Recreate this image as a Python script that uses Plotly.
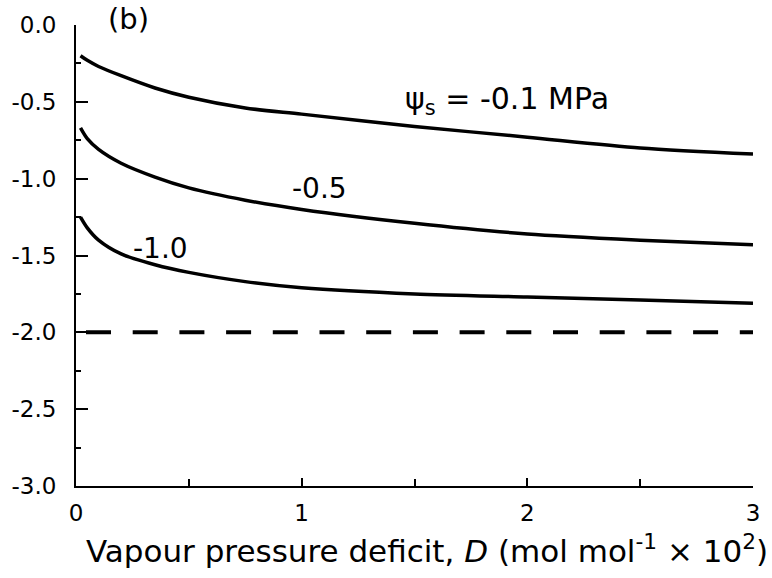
import plotly.graph_objects as go

# Vapour pressure deficit (mol mol-1 x 10^2)
D = [0.02, 0.05, 0.1, 0.2, 0.35, 0.5, 0.75, 1.0, 1.5, 2.0, 2.5, 3.0]

# Leaf water potential (MPa) for three solute potentials
psi_01 = [-0.20, -0.23, -0.27, -0.33, -0.41, -0.47, -0.54, -0.58, -0.66, -0.73, -0.80, -0.84]
psi_05 = [-0.67, -0.74, -0.81, -0.90, -0.99, -1.06, -1.14, -1.20, -1.29, -1.36, -1.40, -1.43]
psi_10 = [-1.25, -1.32, -1.40, -1.49, -1.56, -1.61, -1.67, -1.71, -1.75, -1.77, -1.79, -1.81]

# Threshold potential drawn as a dashed line
threshold_x = [0, 3]
threshold_y = [-2.0, -2.0]

x_tickvals = [0, 1, 2, 3]
x_ticktext = ["0", "1", "2", "3"]
y_tickvals = [0.0, -0.5, -1.0, -1.5, -2.0, -2.5, -3.0]
y_ticktext = ["0.0", "-0.5", "-1.0", "-1.5", "-2.0", "-2.5", "-3.0"]

FONT = "DejaVu Sans"

fig = go.Figure()
for ys in (psi_01, psi_05, psi_10):
    fig.add_trace(go.Scatter(
        x=D, y=ys, mode="lines",
        line=dict(color="black", width=3.5, shape="spline", smoothing=0.8),
        showlegend=False, hoverinfo="skip",
    ))

fig.add_trace(go.Scatter(
    x=threshold_x, y=threshold_y, mode="lines",
    line=dict(color="black", width=4, dash="0px,10px,25px,11.7px"),
    showlegend=False, hoverinfo="skip",
))

annotations = [
    dict(text="(b)", xref="paper", yref="paper", x=(126 - 73) / 687, y=1.013,
         xanchor="center", yanchor="middle", showarrow=False,
         font=dict(family=FONT, size=29, color="black")),
    dict(text="ψ<sub>s</sub> = -0.1 MPa", x=1.91, y=-0.49,
         xanchor="center", yanchor="middle", showarrow=False,
         font=dict(family=FONT, size=30, color="black")),
    dict(text="-0.5", x=1.08, y=-1.065,
         xanchor="center", yanchor="middle", showarrow=False,
         font=dict(family=FONT, size=28, color="black")),
    dict(text="-1.0", x=0.375, y=-1.455,
         xanchor="center", yanchor="middle", showarrow=False,
         font=dict(family=FONT, size=28, color="black")),
    dict(text="Vapour pressure deficit, <i>D</i> (mol mol<sup>-1</sup> × 10<sup>2</sup>)",
         xref="paper", yref="paper", x=0.518, y=-0.136,
         xanchor="center", yanchor="middle", showarrow=False,
         font=dict(family=FONT, size=31, color="black")),
]

fig.update_layout(
    width=772, height=578,
    margin=dict(l=73, r=12, t=24, b=92),
    paper_bgcolor="white", plot_bgcolor="white",
    annotations=annotations,
    xaxis=dict(
        range=[0, 3], showgrid=False, zeroline=False,
        showline=True, linecolor="black", linewidth=2,
        ticks="inside", ticklen=8, tickwidth=1.5, tickcolor="black",
        tickvals=x_tickvals, ticktext=x_ticktext,
        ticklabelstandoff=5,
        tickfont=dict(family=FONT, size=23, color="black"),
        minor=dict(tickvals=[0.5, 1.5, 2.5], ticks="inside", ticklen=7,
                   tickwidth=1.5, tickcolor="black"),
    ),
    yaxis=dict(
        range=[-3, 0], showgrid=False, zeroline=False,
        showline=True, linecolor="black", linewidth=2,
        ticks="inside", ticklen=12, tickwidth=1.5, tickcolor="black",
        tickvals=y_tickvals, ticktext=y_ticktext,
        ticklabelstandoff=13,
        tickfont=dict(family=FONT, size=23, color="black"),
        minor=dict(tickvals=[-0.25, -0.75, -1.25, -1.75, -2.25, -2.75],
                   ticks="inside", ticklen=5, tickwidth=1.5, tickcolor="black"),
    ),
)

fig.write_html("out.html")
